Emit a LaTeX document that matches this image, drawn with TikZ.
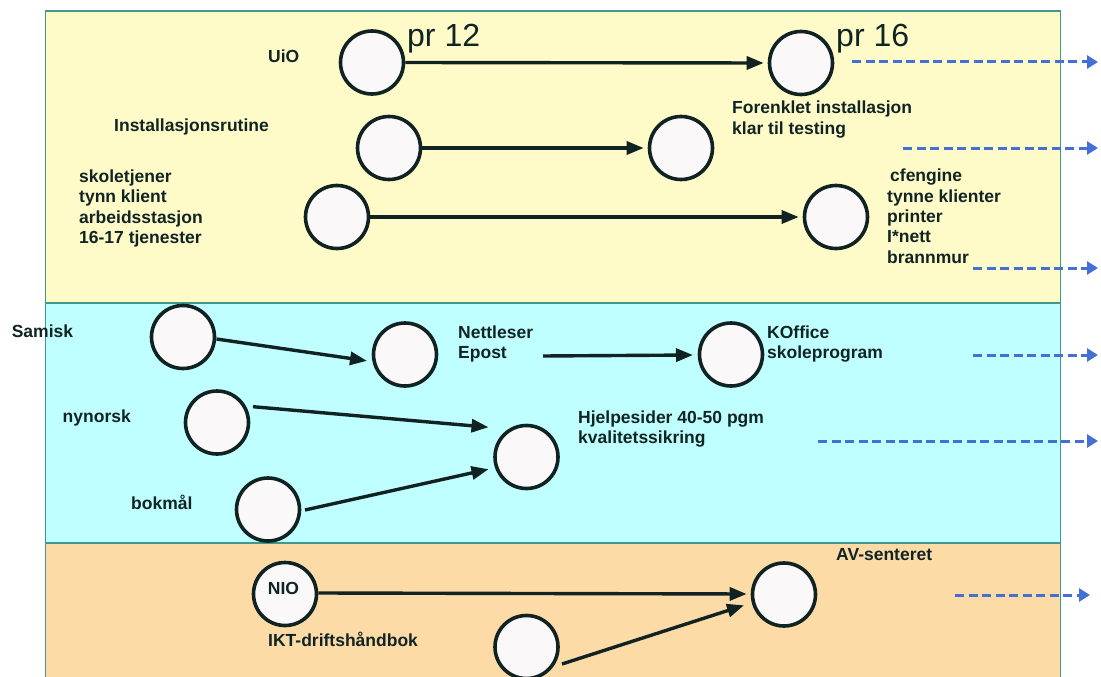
\documentclass[tikz,border=0pt]{standalone}
\usepackage{fontspec}
\setmainfont{Liberation Sans}
\usetikzlibrary{arrows.meta}
\definecolor{bandyellow}{HTML}{FFFBC8}
\definecolor{bandcyan}{HTML}{C0FFFF}
\definecolor{bandorange}{HTML}{FDDBA6}
\definecolor{bandline}{HTML}{3F9A8C}
\definecolor{circline}{HTML}{102222}
\definecolor{circfill}{HTML}{FBF8FA}
\definecolor{dashblue}{HTML}{4470D6}
\definecolor{txt}{HTML}{102424}
\tikzset{
  band/.style={draw=bandline, line width=1.2pt},
  milestone/.style={circle, draw=circline, fill=circfill, line width=3.6pt, minimum size=63pt, inner sep=0pt},
  lbl/.style={font=\fontsize{17.5}{20.3}\selectfont\bfseries, text=txt, inner sep=0pt, align=left},
  bigtxt/.style={font=\fontsize{32}{36}\selectfont, text=txt, inner sep=0pt},
  flow/.style={draw=circline, line width=3.4pt, -{Triangle[length=17pt,width=13pt]}, shorten >=1pt},
  future/.style={draw=dashblue, line width=3pt, dash pattern=on 9pt off 4.5pt, -{Triangle[length=11pt,width=13pt]}}
}
\begin{document}
\begin{tikzpicture}[x=1pt,y=-1pt]
\useasboundingbox (0,0) rectangle (1101,677);
\clip (0,0) rectangle (1101,677);
% bands
\fill[bandyellow] (45.6,11) rectangle (1060.6,303);
\fill[bandcyan] (45.6,303) rectangle (1060.6,543);
\fill[bandorange] (45.6,543) rectangle (1060.6,690);
\draw[band] (45.6,11) rectangle (1060.6,303);
\draw[band] (45.6,303) rectangle (1060.6,543);
\draw[band] (45.6,690) -- (45.6,543) -- (1060.6,543) -- (1060.6,690);

% circles
\node[milestone] (uio) at (372,62.5) {};
\node[milestone] (pr16) at (801,63) {};
\node[milestone] (insta) at (389,148) {};
\node[milestone] (instb) at (681,148) {};
\node[milestone] (skole) at (337,217) {};
\node[milestone] (cfeng) at (836,217) {};
\node[milestone] (sam) at (183,337) {};
\node[milestone] (nett) at (405,354.5) {};
\node[milestone] (koff) at (731,354.5) {};
\node[milestone] (nyn) at (217,422.5) {};
\node[milestone] (hjelp) at (526.5,457) {};
\node[milestone] (bok) at (268,509.5) {};
\node[milestone] (nio) at (285,594) {};
\node[milestone] (av) at (784,594.5) {};
\node[milestone] (ikt) at (526.5,647) {};

% texts (multi-line nodes: base = last line's baseline)
\node[lbl, anchor=base west] (tuio) at (268,63) {UiO};
\node[bigtxt, anchor=base west] (tpr12) at (407,47) {pr 12};
\node[bigtxt, anchor=base west] (tpr16) at (836,47) {pr 16};
\node[lbl, anchor=base west] (tinst) at (114,131) {Installasjonsrutine};
\node[lbl, anchor=base west] (tskole) at (79,243.5) {skoletjener\\tynn klient\\arbeidsstasjon\\16-17 tjenester};
\node[lbl, anchor=base west] (tforenk) at (732,134) {Forenklet installasjon\\klar til testing};
\node[lbl, anchor=base west] (tcfeng) at (887,263) {\hspace{3pt}cfengine\\tynne klienter\\printer\\I*nett\\brannmur};
\node[lbl, anchor=base west] (tsam) at (11.6,337.7) {Samisk};
\node[lbl, anchor=base west] (tnett) at (458,358.3) {Nettleser\\Epost};
\node[lbl, anchor=base west] (tkoff) at (767,358.3) {KOffice\\skoleprogram};
\node[lbl, anchor=base west] (tnyn) at (62.5,422.7) {nynorsk};
\node[lbl, anchor=base west] (thjelp) at (578,443.3) {Hjelpesider 40-50 pgm\\kvalitetssikring};
\node[lbl, anchor=base west] (tbok) at (131,509) {bokmål};
\node[lbl, anchor=base] (tnio) at (283.5,594) {NIO};
\node[lbl, anchor=base west] (tikt) at (268,646) {IKT-driftshåndbok};
\node[lbl, anchor=base west] (tav) at (836,560) {AV-senteret};

% solid connectors
\draw[flow, shorten >=4pt] (uio.east) -- (pr16.west);
\draw[flow, shorten >=4pt] (insta.east) -- (instb.west);
\draw[flow, shorten >=4pt] (skole.east) -- (cfeng.west);
\draw[flow] ([shift={(33.5,2)}]sam.center) -- ([shift={(-37,6.5)}]nett.center);
\coordinate (epostout) at (543,356);
\draw[flow] (epostout) -- ([shift={(-37,0.5)}]koff.center);
\draw[flow] ([shift={(36,-15.8)}]nyn.center) -- ([shift={(-37,-29.7)}]hjelp.center);
\draw[flow] ([shift={(37,0.5)}]bok.center) -- ([shift={(-37,12)}]hjelp.center);
\draw[flow, shorten >=4pt] ([yshift=1pt]nio.east) -- ([yshift=0.5pt]av.west);
\draw[flow] ([shift={(35.5,17)}]ikt.center) -- ([shift={(-39,10.5)}]av.center);

% dashed continuation arrows
\coordinate (da1) at (852,62);   \coordinate (db1) at (1098,62);
\coordinate (da2) at (903,148);  \coordinate (db2) at (1098,148);
\coordinate (da3) at (973,268);  \coordinate (db3) at (1098,268);
\coordinate (da4) at (973,355);  \coordinate (db4) at (1098,355);
\coordinate (da5) at (818,441);  \coordinate (db5) at (1098,441);
\coordinate (da6) at (955,595);  \coordinate (db6) at (1090,595);
\draw[future] (da1) -- (db1);
\draw[future] (da2) -- (db2);
\draw[future] (da3) -- (db3);
\draw[future] (da4) -- (db4);
\draw[future] (da5) -- (db5);
\draw[future] (da6) -- (db6);
\end{tikzpicture}
\end{document}
